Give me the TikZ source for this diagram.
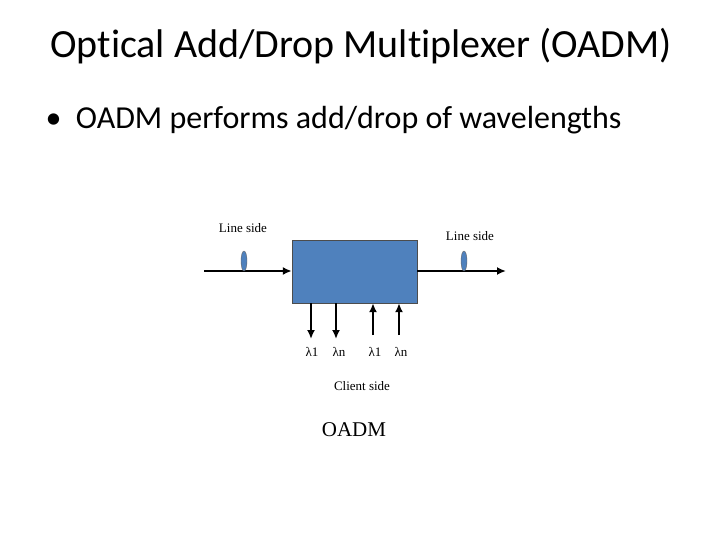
\documentclass[tikz,border=0pt]{standalone}
\usepackage{fontspec}
\setmainfont[Ligatures=NoCommon]{Carlito}
\newfontfamily\tnr{Liberation Serif}
\begin{document}
\begin{tikzpicture}[x=1pt,y=-1pt,
  lbl/.style={font=\tnr\fontsize{13}{15}\selectfont,inner sep=0},
  arr/.style={line width=2.2pt,-{Latex[length=9pt,width=8pt]}},
  lens/.style={draw=black!60,fill={rgb,255:red,79;green,129;blue,189},ellipse,minimum width=6pt,minimum height=20pt,inner sep=0}]
\usetikzlibrary{arrows.meta,shapes.geometric}
\useasboundingbox (0,0) rectangle (720,540);
\node[font=\fontsize{40}{46}\selectfont] (title) at (361,46) {Optical Add/Drop Multiplexer (OADM)};
\node[anchor=west,font=\fontsize{32}{38}\selectfont] (bul) at (42,120) {\textbullet\ \ OADM performs add/drop of wavelengths};
\node[draw=black!70,fill={rgb,255:red,79;green,129;blue,189},minimum width=125pt,minimum height=63pt,inner sep=0] (box) at (354.5,271.5) {};
\coordinate (lin) at (204,271);
\coordinate (rout) at (506,271);
\draw[arr] (lin) -- (box.west|-lin);
\draw[arr] (box.east|-rout) -- (rout);
\node[lens] (l1) at (244,261) {};
\node[lens] (l2) at (464,261) {};
\coordinate (d1) at (311,339); \coordinate (d2) at (336,339);
\coordinate (u1) at (373,335); \coordinate (u2) at (399,335);
\draw[arr] (d1|-box.south) -- (d1);
\draw[arr] (d2|-box.south) -- (d2);
\draw[arr] (u1) -- (u1|-box.south);
\draw[arr] (u2) -- (u2|-box.south);
\node[lbl] (t1) at (312,352) {λ1};
\node[lbl] (t2) at (339,352) {λn};
\node[lbl] (t3) at (375,352) {λ1};
\node[lbl] (t4) at (401,352) {λn};
\node[lbl] (ls1) at (243,228) {Line side};
\node[lbl] (ls2) at (470,236) {Line side};
\node[lbl] (cs) at (362,386) {Client side};
\node[font=\tnr\fontsize{21}{25}\selectfont,inner sep=0] (oadm) at (354,430) {OADM};
\end{tikzpicture}
\end{document}
